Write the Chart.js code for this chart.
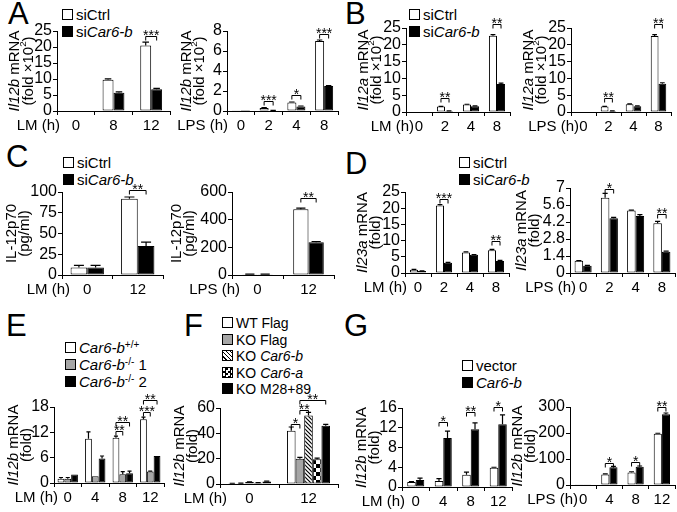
<!DOCTYPE html>
<html>
<head>
<meta charset="utf-8">
<script src="https://cdn.jsdelivr.net/npm/chart.js@4.4.1/dist/chart.umd.min.js"></script>
<style>
  body { margin: 0; background: #fff; }
  #fig { position: relative; width: 677px; height: 512px; overflow: hidden; font-family: "Liberation Sans", Arial, sans-serif; color: #000; }
  #fig canvas { position: absolute; }
  .letter { position: absolute; font-size: 31px; line-height: 30px; }
  .leg { position: absolute; font-size: 15px; line-height: 17px; white-space: nowrap; }
  .leg .sw { display: inline-block; width: 9px; height: 9px; border: 1px solid #000; margin-right: 3px; vertical-align: 0px; background: #fff; }
  .leg sup { font-size: 10px; vertical-align: 5px; line-height: 0; }
</style>
</head>
<body>
<div id="fig">
  <div class="letter" style="left:8px;top:-1px">A</div>
  <div class="letter" style="left:345px;top:-1px">B</div>
  <div class="letter" style="left:6px;top:142px">C</div>
  <div class="letter" style="left:345px;top:149px">D</div>
  <div class="letter" style="left:6px;top:311px">E</div>
  <div class="letter" style="left:184px;top:311px">F</div>
  <div class="letter" style="left:344px;top:311px">G</div>

  <div class="leg" style="left:62px;top:6px">
    <div><span class="sw"></span>siCtrl</div>
    <div><span class="sw" style="background:#000"></span>si<i>Car6-b</i></div>
  </div>
  <div class="leg" style="left:409px;top:6px">
    <div><span class="sw"></span>siCtrl</div>
    <div><span class="sw" style="background:#000"></span>si<i>Car6-b</i></div>
  </div>
  <div class="leg" style="left:63px;top:154px">
    <div><span class="sw"></span>siCtrl</div>
    <div><span class="sw" style="background:#000"></span>si<i>Car6-b</i></div>
  </div>
  <div class="leg" style="left:459px;top:154px">
    <div><span class="sw"></span>siCtrl</div>
    <div><span class="sw" style="background:#000"></span>si<i>Car6-b</i></div>
  </div>
  <div class="leg" style="left:65px;top:339px">
    <div><span class="sw"></span><i>Car6-b</i><sup>+/+</sup></div>
    <div><span class="sw" style="background:#a6a6a6"></span><i>Car6-b</i><sup>-/-</sup> 1</div>
    <div><span class="sw" style="background:#000"></span><i>Car6-b</i><sup>-/-</sup> 2</div>
  </div>
  <div class="leg" style="left:222px;top:315px;font-size:14px;line-height:16.5px">
    <div><span class="sw"></span>WT Flag</div>
    <div><span class="sw" style="background:#a6a6a6"></span>KO Flag</div>
    <div><span class="sw" style="background:repeating-linear-gradient(45deg,#fff 0 2px,#000 2px 3px)"></span>KO <i>Car6-b</i></div>
    <div><span class="sw" style="background:conic-gradient(#000 25%,#fff 0 50%,#000 0 75%,#fff 0) 0 0/5px 5px"></span>KO <i>Car6-a</i></div>
    <div><span class="sw" style="background:#000"></span>KO M28+89</div>
  </div>
  <div class="leg" style="left:462px;top:357px">
    <div><span class="sw"></span>vector</div>
    <div><span class="sw" style="background:#000"></span><i>Car6-b</i></div>
  </div>
</div>
<script>
// categories
const lm3 = ["0", "8", "12"];
const lm2 = ["0", "12"];
const lm4 = ["0", "2", "4", "8"];
const lm4b = ["0", "4", "8", "12"];
const lps4 = ["0", "2", "4", "8"];
const lps2 = ["0", "12"];
const lps4b = ["0", "4", "8", "12"];

// tick labels
const d2Ticks = ["0", "1.4", "2.8", "4.2", "5.6", "7"];

// A: Il12b mRNA (fold x10^2)
const a1Ctrl = [0, 9.8, 20.5];
const a1CtrlErr = [0, 0.25, 1.0];
const a1Car6 = [0, 5.7, 6.8];
const a1Car6Err = [0, 0.3, 0.3];
const a1Sig = [[2, 0, 1, 23.3, "***"]];

const a2Ctrl = [0.02, 0.3, 0.85, 7.0];
const a2CtrlErr = [0, 0.03, 0.05, 0.1];
const a2Car6 = [0.01, 0.05, 0.45, 2.5];
const a2Car6Err = [0, 0.01, 0.05, 0.05];
const a2Sig = [[1, 0, 1, 1.0, "***"], [2, 0, 1, 1.6, "*"], [3, 0, 1, 7.7, "***"]];

// B: Il12a mRNA (fold x10^2)
const b1Ctrl = [0, 1.6, 2.2, 22.7];
const b1CtrlErr = [0, 0.1, 0.1, 0.3];
const b1Car6 = [0, 0.3, 1.7, 8.3];
const b1Car6Err = [0, 0.05, 0.1, 0.3];
const b1Sig = [[1, 0, 1, 4.3, "**"], [3, 0, 1, 26.3, "**"]];

const b2Ctrl = [0, 1.6, 2.3, 22.6];
const b2CtrlErr = [0, 0.1, 0.1, 0.4];
const b2Car6 = [0, 0.3, 1.7, 8.4];
const b2Car6Err = [0, 0.05, 0.1, 0.3];
const b2Sig = [[1, 0, 1, 4.3, "**"], [3, 0, 1, 26.3, "**"]];

// C: IL-12p70 (pg/ml)
const c1Ctrl = [9, 92];
const c1CtrlErr = [2.5, 2];
const c1Car6 = [9, 35];
const c1Car6Err = [2.5, 4.5];
const c1Sig = [[1, 0, 1, 102, "**"]];

const c2Ctrl = [6, 475];
const c2CtrlErr = [1, 8];
const c2Car6 = [6, 237];
const c2Car6Err = [1, 5];
const c2Sig = [[1, 0, 1, 555, "**"]];

// D: Il23a mRNA (fold)
const d1Ctrl = [1.0, 20.8, 6.3, 7.0];
const d1CtrlErr = [0.1, 0.3, 0.2, 0.3];
const d1Car6 = [0.6, 3.2, 5.6, 3.7];
const d1Car6Err = [0.05, 0.1, 0.1, 0.2];
const d1Sig = [[1, 0, 1, 22.8, "***"], [3, 0, 1, 9.8, "**"]];

const d2Ctrl = [1.0, 6.2, 5.15, 4.1];
const d2CtrlErr = [0.02, 0.35, 0.02, 0.15];
const d2Car6 = [0.6, 4.5, 4.7, 1.75];
const d2Car6Err = [0.02, 0.08, 0.1, 0.05];
const d2Sig = [[1, 0, 1, 6.9, "*"], [3, 0, 1, 4.9, "**"]];

// E: Il12b mRNA (fold)
const eWt = [1.0, 10.5, 10.7, 15.1];
const eWtErr = [0.3, 1.6, 0.4, 0.5];
const eKo1 = [1.0, 1.6, 2.1, 2.7];
const eKo1Err = [0.3, 0, 0.6, 0.1];
const eKo2 = [2.0, 5.8, 2.3, 6.4];
const eKo2Err = [0, 0.6, 0.5, 0];
const eSig = [[2, 0, 1, 12.2, "**"], [2, 0, 2, 14.4, "**"], [3, 0, 1, 16.8, "***"], [3, 0, 2, 19.6, "**"]];

// F: Il12b mRNA (fold)
const fWtFlag = [0.5, 42];
const fWtFlagErr = [0.1, 3];
const fKoFlag = [0.6, 20];
const fKoFlagErr = [0.1, 1];
const fKoCar6b = [1.5, 54];
const fKoCar6bErr = [0.2, 2.5];
const fKoCar6a = [1.0, 19.5];
const fKoCar6aErr = [0.1, 1];
const fKoM28 = [2.0, 46];
const fKoM28Err = [0.2, 1];
const fSig = [[1, 0, 1, 47, "*"], [1, 1, 2, 58.5, "**"], [1, 1, 4, 66, "**"]];

// G: Il12b mRNA (fold)
const g1Vec = [1.0, 1.2, 2.5, 3.9];
const g1VecErr = [0.1, 0.5, 0.5, 0.1];
const g1Car6 = [1.4, 9.9, 11.7, 12.7];
const g1Car6Err = [0.4, 1.4, 1.3, 1.9];
const g1Sig = [[1, 0, 1, 13.2, "*"], [2, 0, 1, 15.2, "**"], [3, 0, 1, 16.2, "*"]];

const g2Vec = [1, 40, 48, 197];
const g2VecErr = [0, 3, 3, 2];
const g2Car6 = [1, 68, 70, 272];
const g2Car6Err = [0, 4, 3, 5];
const g2Sig = [[1, 0, 1, 85, "*"], [2, 0, 1, 88, "*"], [3, 0, 1, 300, "**"]];

const FONT = '"Liberation Sans", Arial, sans-serif';
Chart.defaults.font.family = FONT;
Chart.defaults.color = "#000";
const fig = document.getElementById("fig");

// bar fills
function makePattern(kind) {
  const c = document.createElement("canvas");
  const s = 4;
  c.width = c.height = kind === "check" ? s * 2 : s;
  const g = c.getContext("2d");
  g.fillStyle = "#fff";
  g.fillRect(0, 0, c.width, c.height);
  g.fillStyle = "#000";
  g.strokeStyle = "#000";
  if (kind === "hatch") {
    g.lineWidth = 1.2;
    g.beginPath();
    g.moveTo(-1, -1); g.lineTo(s + 1, s + 1);
    g.moveTo(-1, s - 1); g.lineTo(1, s + 1);
    g.moveTo(s - 1, -1); g.lineTo(s + 1, 1);
    g.stroke();
  } else {
    g.fillRect(0, 0, s, s);
    g.fillRect(s, s, s, s);
  }
  return g.createPattern(c, "repeat");
}
const fills = {
  white: "#fff",
  black: "#000",
  gray: "#a6a6a6",
  hatch: makePattern("hatch"),
  check: makePattern("check"),
};

// rich text: <i> and <sup>
function parseRich(str) {
  const out = [];
  let it = false, sup = false;
  str.split(/(<\/?(?:i|sup)>)/).forEach((p) => {
    if (p === "<i>") it = true;
    else if (p === "</i>") it = false;
    else if (p === "<sup>") sup = true;
    else if (p === "</sup>") sup = false;
    else if (p) out.push({ t: p, it, sup });
  });
  return out;
}
function drawRich(ctx, str, size) {
  const segs = parseRich(str);
  const fontOf = (s) => (s.it ? "italic " : "") + (s.sup ? size * 0.65 : size) + "px " + FONT;
  let total = 0;
  segs.forEach((s) => { ctx.font = fontOf(s); s.w = ctx.measureText(s.t).width; total += s.w; });
  let x = -total / 2;
  ctx.textAlign = "left";
  ctx.textBaseline = "middle";
  segs.forEach((s) => {
    ctx.font = fontOf(s);
    ctx.fillText(s.t, x, s.sup ? -size * 0.35 : 0);
    x += s.w;
  });
}

const errorBars = {
  id: "errorBars",
  afterDatasetsDraw(chart) {
    const { ctx } = chart;
    const ys = chart.scales.y;
    chart.data.datasets.forEach((ds, di) => {
      chart.getDatasetMeta(di).data.forEach((bar, i) => {
        const e = ds.errors[i];
        if (!e) return;
        const v = ds.data[i];
        const y0 = ys.getPixelForValue(v);
        const y1 = ys.getPixelForValue(v + e);
        const cap = bar.width * 0.3;
        ctx.save();
        ctx.strokeStyle = "#000";
        ctx.lineWidth = 1.2;
        ctx.beginPath();
        ctx.moveTo(bar.x, y0);
        ctx.lineTo(bar.x, y1);
        ctx.moveTo(bar.x - cap, y1);
        ctx.lineTo(bar.x + cap, y1);
        ctx.stroke();
        ctx.restore();
      });
    });
  },
};

const sigBrackets = {
  id: "sig",
  afterDatasetsDraw(chart, args, opts) {
    const { ctx } = chart;
    const ys = chart.scales.y;
    (opts.items || []).forEach(([cat, a, b, v, label]) => {
      const xa = chart.getDatasetMeta(a).data[cat].x;
      const xb = chart.getDatasetMeta(b).data[cat].x;
      const yy = Math.round(ys.getPixelForValue(v)) + 0.5;
      ctx.save();
      ctx.strokeStyle = "#000";
      ctx.lineWidth = 1;
      ctx.beginPath();
      ctx.moveTo(xa, yy + 4);
      ctx.lineTo(xa, yy);
      ctx.lineTo(xb, yy);
      ctx.lineTo(xb, yy + 4);
      ctx.stroke();
      ctx.fillStyle = "#000";
      ctx.font = "14px " + FONT;
      ctx.textAlign = "center";
      ctx.textBaseline = "alphabetic";
      ctx.fillText(label, (xa + xb) / 2, yy + 3);
      ctx.restore();
    });
  },
};

const axisText = {
  id: "axisText",
  afterDraw(chart, args, opts) {
    const { ctx, chartArea: a } = chart;
    ctx.save();
    ctx.fillStyle = "#000";
    ctx.font = "15px " + FONT;
    ctx.textAlign = "right";
    ctx.textBaseline = "top";
    ctx.fillText(opts.prefix, a.left + opts.pdx, a.bottom + 7);
    const cy = (a.top + a.bottom) / 2;
    opts.title.forEach((line, i) => {
      ctx.save();
      ctx.translate(a.left - opts.tdx[i], cy);
      ctx.rotate(-Math.PI / 2);
      drawRich(ctx, line, 15);
      ctx.restore();
    });
    ctx.restore();
  },
};

const PAD_L = 40, PAD_T = 40, PAD_R = 8, X_H = 26, Y_W = 40;

function panel(p) {
  const [L, T, R, B] = p.box;
  const w = R - L + PAD_L + Y_W + PAD_R;
  const h = B - T + PAD_T + X_H + 2;
  const cv = document.createElement("canvas");
  cv.width = w;
  cv.height = h;
  cv.style.left = L - PAD_L - Y_W + "px";
  cv.style.top = T - PAD_T + "px";
  fig.appendChild(cv);
  new Chart(cv, {
    type: "bar",
    data: {
      labels: p.labels,
      datasets: p.series.map(([style, data, errors]) => ({
        data,
        errors,
        backgroundColor: fills[style],
        borderColor: "#000",
        borderWidth: 1,
        borderSkipped: false,
        categoryPercentage: p.cp,
        barPercentage: 1,
      })),
    },
    options: {
      responsive: false,
      animation: false,
      events: [],
      layout: { padding: { left: PAD_L, top: PAD_T, right: PAD_R, bottom: 2 } },
      scales: {
        x: {
          offset: true,
          grid: { display: true, drawOnChartArea: false, offset: true, tickLength: 4, tickColor: "#000", color: "#000" },
          border: { color: "#000", width: 1 },
          ticks: { font: { size: 15 }, padding: 2, maxRotation: 0, autoSkip: false },
          afterFit: (s) => { s.height = X_H; },
        },
        y: {
          min: 0,
          max: p.max,
          grid: { display: true, drawOnChartArea: false, tickLength: 4, tickColor: "#000", color: "#000" },
          border: { color: "#000", width: 1 },
          ticks: {
            stepSize: p.step,
            autoSkip: false,
            font: { size: 16 },
            padding: 1,
            callback: p.ticks ? (v, i) => p.ticks[i] : (v) => v,
          },
          afterFit: (s) => { s.width = Y_W; },
        },
      },
      plugins: {
        legend: { display: false },
        tooltip: { enabled: false },
        sig: { items: p.sig },
        axisText: { prefix: p.prefix, pdx: p.pdx, title: p.title, tdx: p.tdx },
      },
    },
    plugins: [errorBars, sigBrackets, axisText],
  });
}

const t12b = ["<i>Il12b</i> mRNA", "(fold \u00d710<sup>2</sup>)"];
const t12a = ["<i>Il12a</i> mRNA", "(fold \u00d710<sup>2</sup>)"];
const tp70 = ["IL-12p70", "(pg/ml)"];
const t23a = ["<i>Il23a</i> mRNA", "(fold)"];
const t12bf = ["<i>Il12b</i> mRNA", "(fold)"];

panel({ box: [57, 31, 170, 111], labels: lm3, max: 25, step: 5, cp: 0.58, sig: a1Sig,
  series: [["white", a1Ctrl, a1CtrlErr], ["black", a1Car6, a1Car6Err]],
  title: t12b, tdx: [42, 28], prefix: "LM (h)", pdx: 3 });
panel({ box: [227, 31, 338, 111], labels: lps4, max: 8, step: 2, cp: 0.65, sig: a2Sig,
  series: [["white", a2Ctrl, a2CtrlErr], ["black", a2Car6, a2Car6Err]],
  title: t12b, tdx: [40, 27], prefix: "LPS (h)", pdx: 1 });
panel({ box: [406, 28, 510, 112], labels: lm4, max: 25, step: 5, cp: 0.62, sig: b1Sig,
  series: [["white", b1Ctrl, b1CtrlErr], ["black", b1Car6, b1Car6Err]],
  title: t12a, tdx: [42, 29], prefix: "LM (h)", pdx: 8 });
panel({ box: [571, 28, 671, 112], labels: lps4, max: 25, step: 5, cp: 0.62, sig: b2Sig,
  series: [["white", b2Ctrl, b2CtrlErr], ["black", b2Car6, b2Car6Err]],
  title: t12a, tdx: [42, 29], prefix: "LPS (h)", pdx: 8 });
panel({ box: [62, 192, 163, 275], labels: lm2, max: 100, step: 25, cp: 0.66, sig: c1Sig,
  series: [["white", c1Ctrl, c1CtrlErr], ["black", c1Car6, c1Car6Err]],
  title: tp70, tdx: [50, 37], prefix: "LM (h)", pdx: 8 });
panel({ box: [232, 192, 334, 275], labels: lps2, max: 600, step: 200, cp: 0.6, sig: c2Sig,
  series: [["white", c2Ctrl, c2CtrlErr], ["black", c2Car6, c2Car6Err]],
  title: tp70, tdx: [55, 42], prefix: "LPS (h)", pdx: 8 });
panel({ box: [405, 192, 509, 273], labels: lm4, max: 25, step: 5, cp: 0.62, sig: d1Sig,
  series: [["white", d1Ctrl, d1CtrlErr], ["black", d1Car6, d1Car6Err]],
  title: t23a, tdx: [42, 29], prefix: "LM (h)", pdx: 2 });
panel({ box: [570, 188, 675, 273], labels: lps4, max: 7, step: 1.4, ticks: d2Ticks, cp: 0.65, sig: d2Sig,
  series: [["white", d2Ctrl, d2CtrlErr], ["black", d2Car6, d2Car6Err]],
  title: t23a, tdx: [48, 35], prefix: "LPS (h)", pdx: 6 });
panel({ box: [54, 407, 164, 483], labels: lm4b, max: 18, step: 6, cp: 0.74, sig: eSig,
  series: [["white", eWt, eWtErr], ["gray", eKo1, eKo1Err], ["black", eKo2, eKo2Err]],
  title: t12bf, tdx: [40, 27], prefix: "LM (h)", pdx: 4 });
panel({ box: [220, 408, 338, 484], labels: lm2, max: 60, step: 20, cp: 0.73, sig: fSig,
  series: [["white", fWtFlag, fWtFlagErr], ["gray", fKoFlag, fKoFlagErr], ["hatch", fKoCar6b, fKoCar6bErr],
    ["check", fKoCar6a, fKoCar6aErr], ["black", fKoM28, fKoM28Err]],
  title: t12bf, tdx: [40, 27], prefix: "LM (h)", pdx: 7 });
panel({ box: [402, 408, 512, 487], labels: lm4b, max: 16, step: 4, cp: 0.62, sig: g1Sig,
  series: [["white", g1Vec, g1VecErr], ["black", g1Car6, g1Car6Err]],
  title: t12bf, tdx: [40, 27], prefix: "LM (h)", pdx: 3 });
panel({ box: [570, 407, 675, 485], labels: lps4b, max: 300, step: 100, cp: 0.62, sig: g2Sig,
  series: [["white", g2Vec, g2VecErr], ["black", g2Car6, g2Car6Err]],
  title: t12bf, tdx: [52, 39], prefix: "LPS (h)", pdx: 8 });
</script>
</body>
</html>
